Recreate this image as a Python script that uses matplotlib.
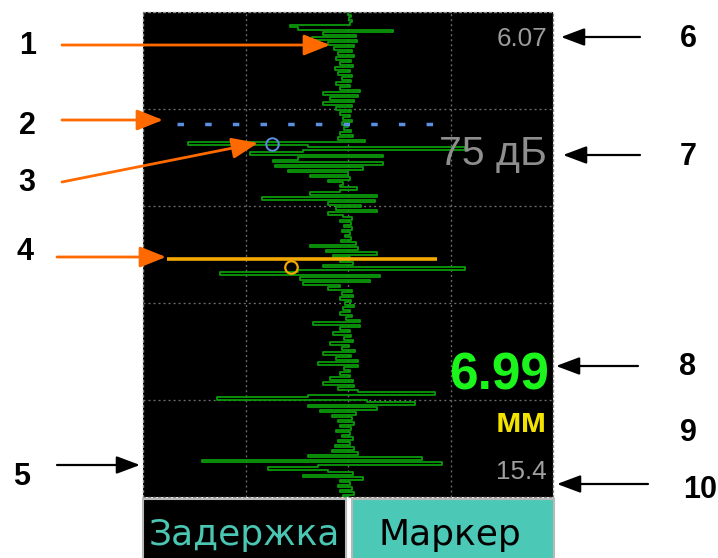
import matplotlib
matplotlib.use('Agg')
import matplotlib.pyplot as plt
from matplotlib.patches import Rectangle
import numpy as np

# a-scan samples, top to bottom (signed amplitude, screen half-width = 205)
amp = [
    0, 3, 1, 4, 2, -58, -50, 45, -25, 8,
    -36, 9, -20, 6, -14, 4, -10, 6, -12, 3,
    -8, 5, -13, 2, -10, 4, -6, 3, -12, 2,
    -8, 12, -25, 10, -18, 6, -25, 4, -12, 3,
    -8, 2, -5, 4, -6, 0, -4, 3, -8, 5,
    -10, 17, -160, -40, 117, -45, -98, 35, -50, -75,
    35, -73, 15, -60, 0, -38, 2, -20, -5, -8,
    9, -8, -38, 29, -86, 27, -20, 13, -12, 29,
    -20, -5, 4, -8, 3, -4, 4, -6, 2, -3,
    3, -7, 8, -38, 10, -22, 29, -15, 2, -8,
    5, -25, 117, -50, -128, 32, -48, 22, -45, -8,
    -20, 4, -6, 5, -8, 3, -3, 6, -5, 2,
    -8, 4, -2, 12, -35, 12, -8, 2, -15, 3,
    -4, 5, -18, 1, -6, 7, -25, 3, -12, 10,
    -30, 10, -4, 2, -8, 2, -18, 5, -25, 6,
    -10, 10, 87, -40, -131, 19, 67, -40, 29, -28,
    8, -16, 4, -10, 6, -8, 3, -12, 2, -6,
    5, -10, 2, -13, 6, -16, 10, -40, 74, -146,
    94, -30, -80, -20, 5, -45, 15, -8, 2, -10,
    4, -8, 6, -5, 0,
]
depth = np.arange(len(amp))

# gate (blue) and marker (orange): level, start, end
gate_depth, gate_from, gate_to = 44.8, -171, 88
gate_hit = (-76, 52.8)
marker_depth, marker_from, marker_to = 98.8, -181, 89
marker_hit = (-57, 102.0)

# readouts
delay_txt = '6.07'
gain_txt = '75 дБ'
depth_txt = '6.99'
unit_txt = 'мм'
range_txt = '15.4'
buttons = ['Задержка', 'Маркер']

W, H = 718, 558
fig = plt.figure(figsize=(W / 100, H / 100), dpi=100)
fig.patch.set_facecolor('white')

ax = fig.add_axes([143 / W, (H - 497) / H, 410 / W, 485 / H])
ax.set_facecolor('black')
ax.set_xlim(-205, 205)
ax.set_ylim(len(amp) - 1, 0)
ax.set_xticks([-102.5, 0, 102.5])
ax.set_yticks(np.linspace(0, len(amp) - 1, 6)[1:-1])
ax.tick_params(length=0, labelbottom=False, labelleft=False)
ax.grid(True, color='#6e6e6e', lw=0.95, linestyle=(0, (1.5, 2.3)))
for s in ax.spines.values():
    s.set_color('#8c8c8c')
    s.set_linestyle((0, (1.5, 2.3)))
    s.set_linewidth(0.95)

ax.plot(amp, depth, drawstyle='steps-pre', color='#0b9a0b', lw=1.3, zorder=3)

ax.plot([gate_from, gate_to], [gate_depth, gate_depth], color='#5b8fe0', lw=2.5,
        linestyle=(0, (1.87, 6.1)), zorder=4)
ax.plot(*gate_hit, 'o', ms=9, mfc='none', mec='#5b8fe0', mew=1.4, zorder=5)

ax.plot([marker_from, marker_to], [marker_depth, marker_depth], color='#f5a800',
        lw=2.6, solid_capstyle='butt', zorder=4)
ax.plot(*marker_hit, 'o', ms=9, mfc='none', mec='#f5a800', mew=1.6, zorder=5)

# overlay in pixel coordinates for readouts, buttons and callouts
ov = fig.add_axes([0, 0, 1, 1], zorder=5)
ov.set_xlim(0, W)
ov.set_ylim(H, 0)
ov.axis('off')
ov.patch.set_alpha(0)

ov.text(547, 46, delay_txt, ha='right', va='baseline', fontsize=18.7,
        family='Liberation Sans', color='#9c9c9c')
ov.text(547, 165, gain_txt, ha='right', va='baseline', fontsize=29.5,
        family='Liberation Sans', color='#8e8e8e')
ov.text(549, 389, depth_txt, ha='right', va='baseline', fontsize=37,
        family='Liberation Sans', weight='bold', color='#1cf51c')
ov.text(547, 432, unit_txt, ha='right', va='baseline', fontsize=25,
        family='Liberation Sans', weight='bold', color='#f2e400')
ov.text(547, 479, range_txt, ha='right', va='baseline', fontsize=18.7,
        family='Liberation Sans', color='#a0a0a0')

ov.add_patch(Rectangle((143, 499), 203, 70, fc='black', ec='#b8b8b8', lw=1.5))
ov.add_patch(Rectangle((352, 499), 202, 70, fc='#4cc9b6', ec='#b8b8b8', lw=1.5))
ov.text(244, 545, buttons[0], ha='center', va='baseline', fontsize=26,
        family='DejaVu Sans', color='#4ac6b2')
ov.text(450, 545, buttons[1], ha='center', va='baseline', fontsize=26,
        family='DejaVu Sans', color='black')

orange = '#ff6a00'
for (x0, y0), (x1, y1) in [((62, 45), (330, 45)), ((62, 120), (163, 120)),
                           ((62, 182), (258, 143)), ((57, 257), (166, 257))]:
    ov.annotate('', xy=(x1, y1), xytext=(x0, y0),
                arrowprops=dict(arrowstyle='-|>,head_length=0.8,head_width=0.32',
                                mutation_scale=20, color=orange, lw=2,
                                shrinkA=0, shrinkB=0))
for (x0, y0), (x1, y1) in [((57, 465), (140, 465)), ((640, 37), (561, 37)),
                           ((640, 155), (563, 155)), ((638, 366), (556, 366)),
                           ((648, 484), (557, 484))]:
    ov.annotate('', xy=(x1, y1), xytext=(x0, y0),
                arrowprops=dict(arrowstyle='-|>,head_length=0.8,head_width=0.3',
                                mutation_scale=18, color='black', lw=1.6,
                                shrinkA=0, shrinkB=0))

labels = [('1', 28, 54), ('2', 27, 134), ('3', 27, 191), ('4', 25, 260),
          ('5', 22, 485), ('6', 688, 47), ('7', 688, 165), ('8', 688, 375),
          ('9', 688, 441), ('10', 700, 498)]
for t, x, y in labels:
    ov.text(x, y, t, ha='center', va='baseline', fontsize=22,
            family='Liberation Sans', weight='bold', color='black')

fig.savefig('out.png', dpi=100)
